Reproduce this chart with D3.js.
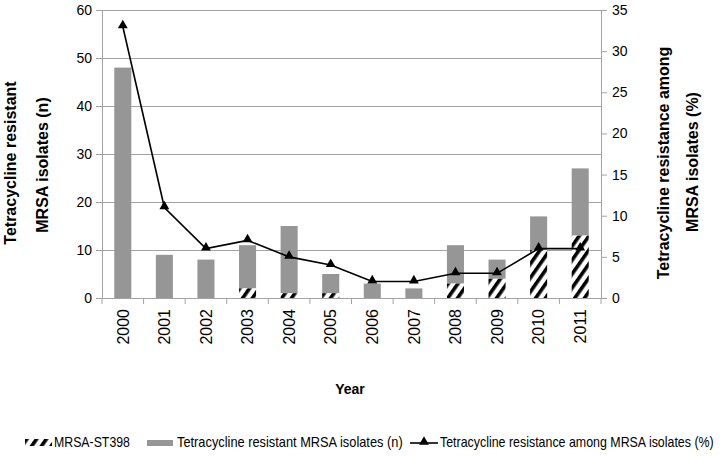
<!DOCTYPE html>
<html>
<head>
<meta charset="utf-8">
<script src="https://cdn.jsdelivr.net/npm/d3@7/dist/d3.min.js"></script>
<style>
  html, body { margin: 0; padding: 0; background: #fff; }
  svg { display: block; }
  text { font-family: Arial, "Liberation Sans", sans-serif; fill: #000; }
</style>
</head>
<body>
<svg id="chart" width="722" height="456"></svg>
<script>
const years = ["2000","2001","2002","2003","2004","2005","2006","2007","2008","2009","2010","2011"];
const tetraResistantN = [48, 9, 8, 11, 15, 5, 3, 2, 11, 8, 17, 27];
const st398N = [0, 0, 0, 2, 1, 1, 0, 0, 3, 4, 10, 13];
const resistancePct = [33, 11, 6, 7, 5, 4, 2, 2, 3, 3, 6, 6];
const leftTicks = [0, 10, 20, 30, 40, 50, 60];
const rightTicks = [0, 5, 10, 15, 20, 25, 30, 35];
const legendLabels = ["MRSA-ST398", "Tetracycline resistant MRSA isolates (n)", "Tetracycline resistance among MRSA isolates (%)"];

(function () {
const svg = d3.select("#chart");
const pLeft = 102, pRight = 601, pTop = 10, pBottom = 298;
const gridColor = "#a3a3a3";
const barColor = "#969696";

const x = d3.scaleBand().domain(years).range([pLeft, pRight]).paddingInner(0.59).paddingOuter(0.295);
const yL = d3.scaleLinear().domain([0, 60]).range([pBottom, pTop]);
const yR = d3.scaleLinear().domain([0, 35]).range([pBottom, pTop]);

// hatch pattern
const defs = svg.append("defs");
const pat = defs.append("pattern")
  .attr("id", "hatch").attr("patternUnits", "userSpaceOnUse")
  .attr("width", 8).attr("height", 8)
  .attr("patternTransform", "rotate(35)");
pat.append("rect").attr("width", 8).attr("height", 8).attr("fill", "#fff");
pat.append("rect").attr("x", 0).attr("width", 3.6).attr("height", 8).attr("fill", "#000");

// gridlines
svg.append("g").selectAll("line").data(leftTicks.filter(d => d > 0)).join("line")
  .attr("x1", pLeft).attr("x2", pRight)
  .attr("y1", d => yL(d) + 0.5).attr("y2", d => yL(d) + 0.5)
  .attr("stroke", gridColor).attr("stroke-width", 1.2);

// left axis
const axL = svg.append("g").attr("transform", `translate(${pLeft},0)`)
  .call(d3.axisLeft(yL).tickValues(leftTicks).tickSize(6).tickPadding(4).tickFormat(d3.format("d")));
axL.select(".domain").attr("stroke", gridColor);
axL.selectAll(".tick line").attr("stroke", gridColor);
axL.selectAll("text").style("font-size", "14px").attr("font-family", "Arial, 'Liberation Sans', sans-serif");

// right axis
const axR = svg.append("g").attr("transform", `translate(${pRight},0)`)
  .call(d3.axisRight(yR).tickValues(rightTicks).tickSize(6).tickPadding(5).tickFormat(d3.format("d")));
axR.select(".domain").attr("stroke", gridColor);
axR.selectAll(".tick line").attr("stroke", gridColor);
axR.selectAll("text").style("font-size", "14px").attr("font-family", "Arial, 'Liberation Sans', sans-serif");

// x axis line and boundary ticks
svg.append("line").attr("x1", pLeft).attr("x2", pRight).attr("y1", pBottom + 0.5).attr("y2", pBottom + 0.5)
  .attr("stroke", gridColor).attr("stroke-width", 1.2);
const step = x.step();
svg.append("g").selectAll("line").data(d3.range(years.length + 1)).join("line")
  .attr("x1", i => pLeft + i * step).attr("x2", i => pLeft + i * step)
  .attr("y1", pBottom).attr("y2", pBottom + 6)
  .attr("stroke", gridColor);

// gray bars (total resistant) drawn above the ST398 part
svg.append("g").selectAll("rect").data(years).join("rect")
  .attr("x", d => x(d)).attr("width", x.bandwidth())
  .attr("y", (d, i) => yL(tetraResistantN[i]))
  .attr("height", (d, i) => yL(st398N[i]) - yL(tetraResistantN[i]))
  .attr("fill", barColor);

// hatched ST398 bars
svg.append("g").selectAll("rect").data(years.filter((d, i) => st398N[i] > 0)).join("rect")
  .attr("x", d => x(d)).attr("width", x.bandwidth())
  .attr("y", d => yL(st398N[years.indexOf(d)]))
  .attr("height", d => pBottom - yL(st398N[years.indexOf(d)]))
  .attr("fill", "url(#hatch)");

// line
const cx = d => x(d) + x.bandwidth() / 2;
svg.append("path").datum(years)
  .attr("d", d3.line().x(d => cx(d)).y((d, i) => yR(resistancePct[i])))
  .attr("fill", "none").attr("stroke", "#000").attr("stroke-width", 1.6);
const tri = d3.symbol().type(d3.symbolTriangle).size(42);
svg.append("g").selectAll("path").data(years).join("path")
  .attr("d", tri)
  .attr("transform", (d, i) => `translate(${cx(d)},${yR(resistancePct[i]) - 1})`)
  .attr("fill", "#000");

// year labels
svg.append("g").selectAll("text").data(years).join("text")
  .attr("transform", d => `translate(${cx(d)},309) rotate(-90)`)
  .attr("text-anchor", "end").attr("dy", "0.36em")
  .style("font-size", "16px")
  .text(d => d);

// axis titles
svg.append("text").attr("x", 350).attr("y", 394).attr("text-anchor", "middle")
  .style("font-size", "14px").style("font-weight", "bold").text("Year");

const lt = svg.append("g");
lt.append("text").attr("transform", "translate(16,163) rotate(-90)").attr("text-anchor", "middle")
  .style("font-size", "16px").style("font-weight", "bold").text("Tetracycline resistant");
lt.append("text").attr("transform", "translate(48,165) rotate(-90)").attr("text-anchor", "middle")
  .style("font-size", "16px").style("font-weight", "bold").text("MRSA isolates (n)");

const rt = svg.append("g");
rt.append("text").attr("transform", "translate(669,163) rotate(-90)").attr("text-anchor", "middle")
  .style("font-size", "16px").style("font-weight", "bold").text("Tetracycline resistance among");
rt.append("text").attr("transform", "translate(698,162) rotate(-90)").attr("text-anchor", "middle")
  .style("font-size", "16px").style("font-weight", "bold").text("MRSA isolates (%)");

// legend
const lg = svg.append("g");
const ly = 447;
function legendText(x0, target, label) {
  const t = lg.append("text").attr("x", 0).attr("y", 0).style("font-size", "14px").text(label);
  const w = t.node().getComputedTextLength();
  const s = Math.min(1, target / w);
  t.attr("transform", `translate(${x0},${ly}) scale(${s},1)`);
}
lg.append("rect").attr("x", 25).attr("y", 439).attr("width", 27).attr("height", 7).attr("fill", "url(#hatch)");
legendText(54, 76, legendLabels[0]);
lg.append("rect").attr("x", 147).attr("y", 440).attr("width", 26).attr("height", 6).attr("fill", barColor);
legendText(177, 226, legendLabels[1]);
lg.append("line").attr("x1", 410).attr("x2", 438).attr("y1", 443).attr("y2", 443).attr("stroke", "#000").attr("stroke-width", 1.6);
lg.append("path").attr("d", tri).attr("transform", "translate(424,442)").attr("fill", "#000");
legendText(440, 274, legendLabels[2]);
})();
</script>
</body>
</html>
